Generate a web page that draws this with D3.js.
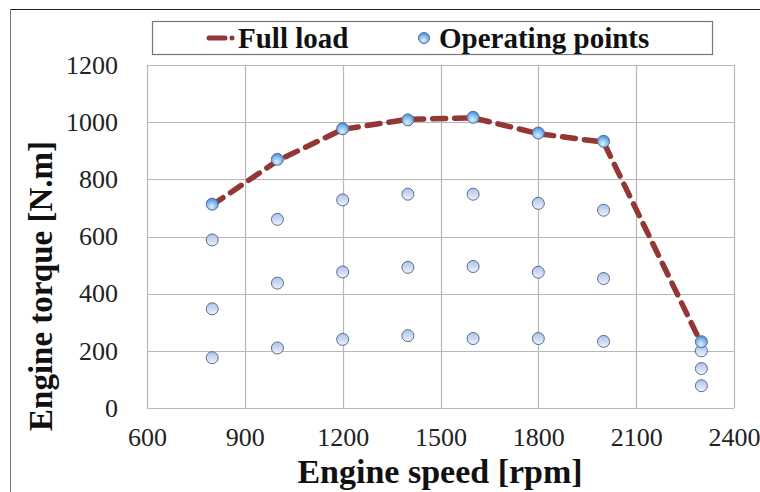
<!DOCTYPE html>
<html><head><meta charset="utf-8">
<script src="https://cdn.jsdelivr.net/npm/d3@7"></script>
<style>
html,body{margin:0;padding:0;background:#fff;}
svg{display:block;}
svg text{font-family:"Liberation Serif", serif;}
</style>
</head><body>
<svg id="chart" width="760" height="492"></svg>
<script>
// ---- data ----
const speeds = [800, 1000, 1200, 1400, 1600, 1800, 2000, 2300];
const fullLoad = [710, 865, 975, 1010, 1015, 960, 930, 225];
const opTop = [713, 870, 977, 1008, 1017, 962, 933, 232];
const opLevel2 = [588, 660, 728, 748, 748, 716, 692, 200];
const opLevel3 = [347, 437, 476, 492, 495, 475, 453, 138];
const opLevel4 = [176, 210, 240, 253, 243, 243, 233, 78];
const xTicks = [600, 900, 1200, 1500, 1800, 2100, 2400];
const yTicks = [0, 200, 400, 600, 800, 1000, 1200];
const legendLabels = ["Full load", "Operating points"];
const xTitle = "Engine speed [rpm]";
const yTitle = "Engine torque [N.m]";

const FONT = '"Liberation Serif", serif';
const svg = d3.select("#chart");
const defs = svg.append("defs");
const g1 = defs.append("radialGradient").attr("id","gTop").attr("cx","45%").attr("cy","70%").attr("r","70%");
g1.append("stop").attr("offset","0%").attr("stop-color","#dff0ff");
g1.append("stop").attr("offset","60%").attr("stop-color","#7fb8f0");
g1.append("stop").attr("offset","100%").attr("stop-color","#3f88dc");
const g2 = defs.append("linearGradient").attr("id","gOp").attr("x1","0").attr("y1","1").attr("x2","0").attr("y2","0");
g2.append("stop").attr("offset","0%").attr("stop-color","#eef3fc");
g2.append("stop").attr("offset","100%").attr("stop-color","#a9c2ea");

// outer frame
svg.append("line").attr("x1",10).attr("y1",9.5).attr("x2",760).attr("y2",9.5).attr("stroke","#222").attr("stroke-width",1);
svg.append("line").attr("x1",10.5).attr("y1",9).attr("x2",10.5).attr("y2",492).attr("stroke","#777").attr("stroke-width",1);

const x = d3.scaleLinear().domain([600, 2400]).range([147, 734]);
const y = d3.scaleLinear().domain([0, 1200]).range([408, 65]);

// grid
const grid = svg.append("g");
grid.selectAll(".vg").data(xTicks).join("line")
  .attr("x1", d => Math.round(x(d)) + 0.5).attr("x2", d => Math.round(x(d)) + 0.5)
  .attr("y1", y(1200)).attr("y2", y(0)).attr("stroke", "#b8b8b8").attr("stroke-width", 1.2);
grid.selectAll(".hg").data(yTicks).join("line")
  .attr("y1", d => Math.round(y(d)) + 0.5).attr("y2", d => Math.round(y(d)) + 0.5)
  .attr("x1", x(600)).attr("x2", x(2400)).attr("stroke", "#b8b8b8").attr("stroke-width", 1.2);

// axes via d3 axis
const xAxis = d3.axisBottom(x).tickValues(xTicks).tickSize(0).tickPadding(20).tickFormat(d3.format("d"));
const gx = svg.append("g").attr("transform", `translate(0,${y(0)})`).call(xAxis);
gx.attr("font-family", null).attr("font-size", null);
gx.select(".domain").remove();
gx.selectAll("text").style("font-family", FONT).style("font-size", "26px").attr("fill", "#222");

const yAxis = d3.axisLeft(y).tickValues(yTicks).tickSize(0).tickPadding(29).tickFormat(d3.format("d"));
const gy = svg.append("g").attr("transform", `translate(${x(600)},0)`).call(yAxis);
gy.attr("font-family", null).attr("font-size", null);
gy.select(".domain").remove();
gy.selectAll("text").style("font-family", FONT).style("font-size", "26px").attr("fill", "#222");

// titles
svg.append("text").attr("x", 440).attr("y", 483).attr("text-anchor", "middle")
  .style("font-family", FONT).style("font-weight", "bold").style("font-size", "34px")
  .attr("fill", "#111").text(xTitle);
svg.append("text").attr("transform", `translate(52,286) rotate(-90)`).attr("text-anchor", "middle")
  .style("font-family", FONT).style("font-weight", "bold").style("font-size", "33px")
  .attr("fill", "#111").text(yTitle);

// full load line
const line = d3.line().x(d => x(d[0])).y(d => y(d[1]));
svg.append("path").datum(speeds.map((s, i) => [s, fullLoad[i]]))
  .attr("d", line).attr("fill", "none").attr("stroke", "#943634").attr("stroke-width", 5.5)
  .attr("stroke-dasharray", "13,9").attr("stroke-linecap", "round");

// operating points
const opPts = [];
[opLevel2, opLevel3, opLevel4].forEach(arr => arr.forEach((v, i) => opPts.push([speeds[i], v])));
svg.append("g").selectAll("circle").data(opPts).join("circle")
  .attr("cx", d => x(d[0])).attr("cy", d => y(d[1])).attr("r", 6)
  .attr("fill", "url(#gOp)").attr("stroke", "#5a6c8c").attr("stroke-width", 1);
svg.append("g").selectAll("circle").data(speeds.map((s, i) => [s, opTop[i]])).join("circle")
  .attr("cx", d => x(d[0])).attr("cy", d => y(d[1])).attr("r", 6)
  .attr("fill", "url(#gTop)").attr("stroke", "#5a6c8c").attr("stroke-width", 1);

// legend
const lg = svg.append("g");
lg.append("rect").attr("x", 152.5).attr("y", 21.5).attr("width", 560).attr("height", 33)
  .attr("fill", "#fff").attr("stroke", "#777").attr("stroke-width", 1.2);
lg.append("line").attr("x1", 209).attr("x2", 225).attr("y1", 38).attr("y2", 38)
  .attr("stroke", "#943634").attr("stroke-width", 5).attr("stroke-linecap", "round");
lg.append("circle").attr("cx", 232).attr("cy", 38).attr("r", 2.5).attr("fill", "#943634");
lg.append("text").attr("x", 238).attr("y", 47.5)
  .style("font-family", FONT).style("font-weight", "bold").style("font-size", "29px").attr("fill", "#111").text(legendLabels[0]);
lg.append("circle").attr("cx", 424).attr("cy", 38).attr("r", 5.5)
  .attr("fill", "url(#gTop)").attr("stroke", "#5a6c8c").attr("stroke-width", 1);
lg.append("text").attr("x", 439).attr("y", 47.5)
  .style("font-family", FONT).style("font-weight", "bold").style("font-size", "29px").attr("fill", "#111").text(legendLabels[1]);
</script>
</body></html>
